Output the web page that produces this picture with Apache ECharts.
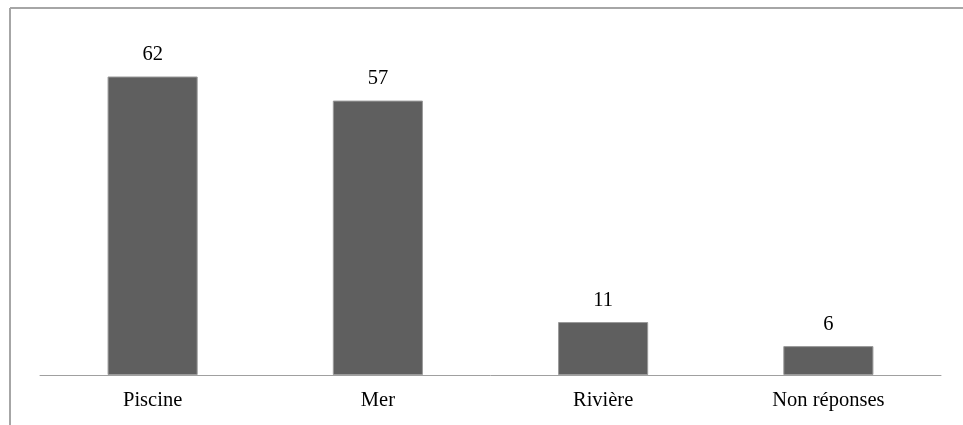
<!DOCTYPE html>
<html>
<head>
<meta charset="utf-8">
<script src="https://cdn.jsdelivr.net/npm/echarts@6/dist/echarts.min.js"></script>
<style>
  html, body { margin: 0; padding: 0; background: #fff; }
  #chart { width: 963px; height: 425px; }
</style>
</head>
<body>
<div id="chart"></div>
<script>
const categories = ['Piscine', 'Mer', 'Rivière', 'Non réponses'];
const values = [62, 57, 11, 6];

const chart = echarts.init(document.getElementById('chart'));

const option = {
  animation: false,
  textStyle: { fontFamily: 'Liberation Serif' },
  grid: { left: 40, right: 22, top: 38, bottom: 50 },
  // frame: only top and left edges are visible
  graphic: [
    { type: 'line', shape: { x1: 10, y1: 8, x2: 963, y2: 8 }, style: { stroke: '#a6a6a6', lineWidth: 2 }, silent: true },
    { type: 'line', shape: { x1: 10, y1: 8, x2: 10, y2: 425 }, style: { stroke: '#a6a6a6', lineWidth: 2 }, silent: true }
  ],
  xAxis: {
    type: 'category',
    data: categories,
    axisLine: { lineStyle: { color: '#a0a0a0', width: 1 } },
    axisTick: { show: false },
    axisLabel: { color: '#000', fontSize: 20.5, margin: 15, fontFamily: 'Liberation Serif' }
  },
  yAxis: {
    type: 'value',
    min: 0,
    max: 70,
    show: false
  },
  series: [{
    type: 'bar',
    data: values,
    barWidth: '40%',
    itemStyle: { color: '#5f5f5f', borderColor: '#9a9a9a', borderWidth: 1 },
    label: {
      show: true,
      position: 'top',
      distance: 11,
      color: '#000',
      fontSize: 20.5,
      fontFamily: 'Liberation Serif'
    }
  }]
};

chart.setOption(option);
</script>
</body>
</html>
